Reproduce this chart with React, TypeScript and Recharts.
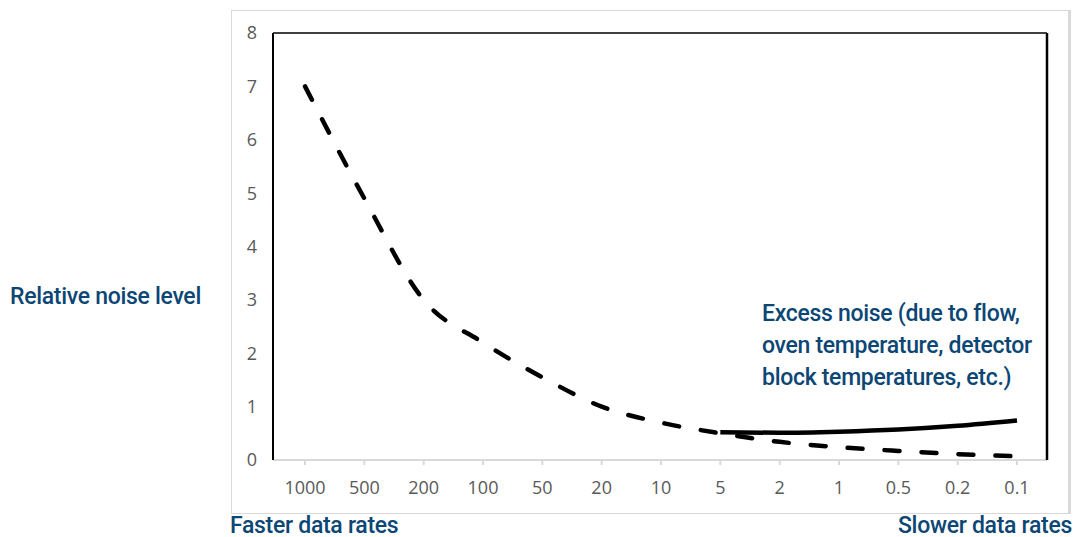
import { LineChart, Line, XAxis, YAxis, ReferenceLine } from 'recharts';

const rates = ['1000', '500', '200', '100', '50', '20', '10', '5', '2', '1', '0.5', '0.2', '0.1'];
const baseNoise = [7.0, 4.9, 3.0, 2.2, 1.55, 1.0, 0.7, 0.5, 0.34, 0.24, 0.17, 0.11, 0.07];
const excessNoise = [null, null, null, null, null, null, null, 0.52, 0.51, 0.53, 0.57, 0.64, 0.74];
const yTicks = [0, 1, 2, 3, 4, 5, 6, 7, 8];
const noteLines = ['Excess noise (due to flow,', 'oven temperature, detector', 'block temperatures, etc.)'];

const data = rates.map((rate, i) => ({
  rate,
  base: baseNoise[i],
  excess: excessNoise[i],
}));

const blue = '#0b4674';
const labelFont = {
  position: 'absolute' as const,
  fontFamily: 'Roboto, sans-serif',
  fontWeight: 500,
  fontSize: 23,
  letterSpacing: -0.3,
  color: blue,
  lineHeight: '32px',
  whiteSpace: 'nowrap' as const,
};
const tickStyle = { fill: '#595959', fontSize: 18, fontFamily: '"Open Sans", sans-serif' };

export default function App() {
  return (
    <div style={{ position: 'absolute', left: 0, top: 0, width: 1074, height: 537, background: '#fff' }}>
      <div
        style={{
          position: 'absolute',
          left: 231,
          top: 10,
          width: 836,
          height: 502,
          border: '1px solid #d9d9d9',
          borderRightWidth: 3,
        }}
      />
      <LineChart width={1074} height={537} data={data} margin={{ top: 33, right: 26, bottom: 0, left: 0 }}>
        <XAxis
          dataKey="rate"
          height={77}
          padding={{ left: 32, right: 30 }}
          axisLine={{ stroke: '#d9d9d9', strokeWidth: 2 }}
          tickLine={{ stroke: '#d9d9d9', strokeWidth: 2 }}
          tickSize={5}
          tickMargin={16}
          tick={tickStyle}
          interval={0}
        />
        <YAxis
          domain={[0, 8]}
          ticks={yTicks}
          width={273}
          axisLine={{ stroke: '#000', strokeWidth: 2 }}
          tickLine={false}
          tickSize={0}
          tickMargin={16}
          tick={tickStyle}
        />
        <YAxis
          yAxisId="right"
          orientation="right"
          width={1}
          domain={[0, 8]}
          axisLine={{ stroke: '#000', strokeWidth: 2.5 }}
          tick={false}
          tickLine={false}
        />
        <ReferenceLine y={8} stroke="#404040" strokeWidth={2} />
        <Line
          type="monotone"
          dataKey="base"
          stroke="#000"
          strokeWidth={4.5}
          strokeDasharray="15 22"
          strokeLinecap="round"
          dot={false}
          isAnimationActive={false}
        />
        <Line
          type="monotone"
          dataKey="excess"
          stroke="#000"
          strokeWidth={4.5}
          dot={false}
          isAnimationActive={false}
        />
      </LineChart>
      <div style={{ ...labelFont, left: 10, top: 281 }}>Relative noise level</div>
      <div style={{ ...labelFont, left: 762, top: 298 }}>
        {noteLines.map((line) => (
          <div key={line}>{line}</div>
        ))}
      </div>
      <div style={{ ...labelFont, left: 230, top: 514, lineHeight: '23px' }}>Faster data rates</div>
      <div style={{ ...labelFont, right: 2, top: 514, lineHeight: '23px' }}>Slower data rates</div>
    </div>
  );
}
